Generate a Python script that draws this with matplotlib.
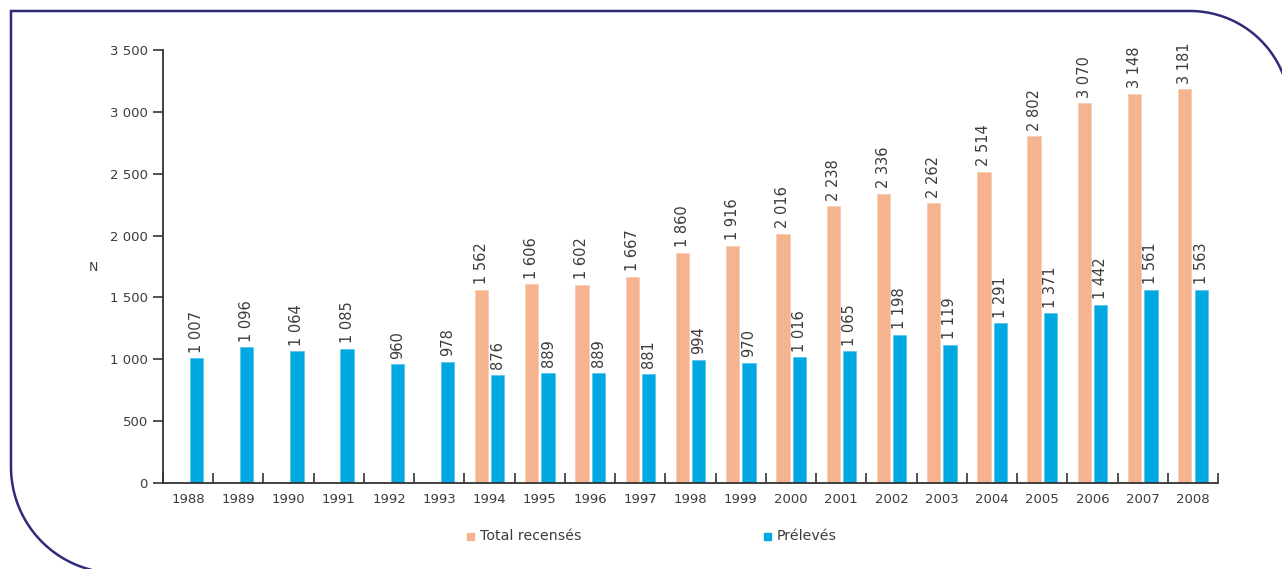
import numpy as np
import matplotlib
matplotlib.use('Agg')
import matplotlib.pyplot as plt
from matplotlib.path import Path
from matplotlib.patches import PathPatch, Rectangle

years = [str(y) for y in range(1988, 2009)]
total_years = [str(y) for y in range(1994, 2009)]
total_recenses = [1562, 1606, 1602, 1667, 1860, 1916, 2016, 2238, 2336, 2262,
                  2514, 2802, 3070, 3148, 3181]
preleves = [1007, 1096, 1064, 1085, 960, 978, 876, 889, 889, 881, 994, 970,
            1016, 1065, 1198, 1119, 1291, 1371, 1442, 1561, 1563]
y_ticks = [0, 500, 1000, 1500, 2000, 2500, 3000, 3500]

ORANGE = '#F5B38F'
BLUE = '#00A8E2'
TEXT = '#3c3c3c'
AXIS = '#333333'
FRAME = '#2e2b78'

W, H = 1282, 569

plt.rcParams['font.family'] = ['DejaVu Sans']


def fmt(v):
    # French style thousands separator
    return f"{v:,}".replace(',', ' ')


def fx(px):
    return px / W


def fy(py):
    return 1 - py / H


fig = plt.figure(figsize=(W / 100, H / 100), dpi=100, facecolor='white')

# decorative frame: square top-left, rounded top-right and bottom-left
r_tr, r_bl = 100, 106
pts = []
c_bl = (11 + r_bl, 467)
for t in np.linspace(np.pi / 2, np.pi, 40):
    pts.append((c_bl[0] + r_bl * np.cos(t), c_bl[1] + r_bl * np.sin(t)))
pts.append((11, 11))
c_tr = (1190, 11 + r_tr)
for t in np.linspace(-np.pi / 2, 0, 40):
    pts.append((c_tr[0] + r_tr * np.cos(t), c_tr[1] + r_tr * np.sin(t)))
verts = [(fx(x), fy(y)) for x, y in pts]
fig.add_artist(PathPatch(Path(verts), transform=fig.transFigure, fill=False,
                         edgecolor=FRAME, linewidth=1.8, clip_on=False))

ax = fig.add_axes([fx(163), fy(483), fx(1218) - fx(163), fy(50) - fy(483)])
ax.set_facecolor('none')

x = np.arange(len(years))
x_total = np.array([years.index(y) for y in total_years])
bw = 0.265
b1 = ax.bar(x_total - 0.16, total_recenses, width=bw, color=ORANGE,
            edgecolor='#f8cdb3', linewidth=0.6)
b2 = ax.bar(x + 0.165, preleves, width=bw, color=BLUE,
            edgecolor='#5cc6ec', linewidth=0.6)

for bars, vals in ((b1, total_recenses), (b2, preleves)):
    for rect, v in zip(bars, vals):
        ax.annotate(fmt(v), (rect.get_x() + rect.get_width() / 2, v),
                    xytext=(0, 4), textcoords='offset points', rotation=90,
                    ha='center', va='bottom', fontsize=10.5, color=TEXT)

ax.set_xlim(-0.5, len(years) - 0.5)
ax.set_ylim(0, 3500)
ax.set_yticks(y_ticks)
ax.set_yticklabels([fmt(v) for v in y_ticks])
ax.set_xticks(x)
ax.set_xticklabels(years)
ax.set_xticks(np.arange(len(years) + 1) - 0.5, minor=True)
ax.tick_params(axis='x', which='major', length=0, pad=7, labelsize=9.5,
               labelcolor=TEXT)
ax.tick_params(axis='x', which='minor', direction='in', length=7,
               width=1.2, color=AXIS)
ax.tick_params(axis='y', direction='out', length=7, width=1.2, color=AXIS,
               pad=4, labelsize=9.5, labelcolor=TEXT)
for s in ('top', 'right'):
    ax.spines[s].set_visible(False)
for s in ('left', 'bottom'):
    ax.spines[s].set_color(AXIS)
    ax.spines[s].set_linewidth(1.3)

fig.text(fx(93), fy(268), 'N', ha='center', va='center', fontsize=9,
         color=TEXT)

# legend
for px, label, col in ((470, 'Total recensés', ORANGE), (767, 'Prélevés', BLUE)):
    fig.add_artist(Rectangle((fx(px - 3), fy(540)), fx(7), fy(533) - fy(540),
                             transform=fig.transFigure, color=col))
    fig.text(fx(px + 10), fy(536), label, ha='left', va='center',
             fontsize=10.2, color=TEXT)

fig.savefig('out.png', dpi=100, facecolor='white')
